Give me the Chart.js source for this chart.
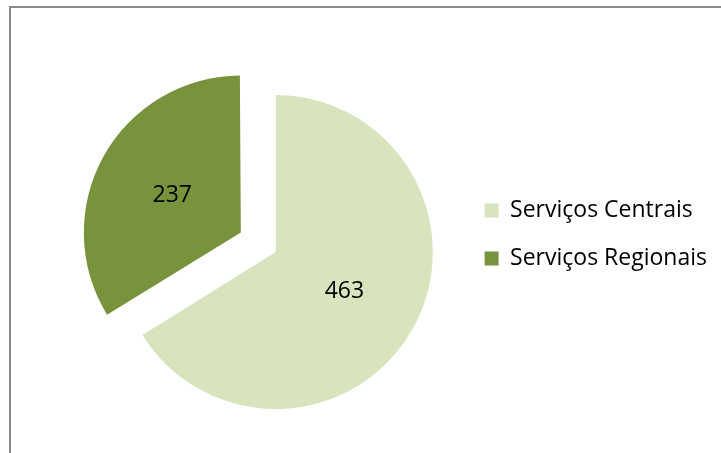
<!DOCTYPE html>
<html>
<head>
<meta charset="utf-8">
<script src="https://cdn.jsdelivr.net/npm/chart.js@4/dist/chart.umd.min.js"></script>
<style>
  body { margin: 0; background: #fff; }
  #wrap { position: relative; width: 721px; height: 453px; overflow: hidden; }
  #frame { position: absolute; left: 9px; top: 6px; width: 800px; height: 500px;
           border-left: 2px solid #8a8a8a; border-top: 2px solid #8a8a8a; }
  #chart { position: absolute; left: 0; top: 0; }
</style>
</head>
<body>
<div id="wrap">
  <div id="frame"></div>
  <canvas id="chart" width="721" height="453"></canvas>
</div>
<script>
// Data
const labels = ['Serviços Centrais', 'Serviços Regionais'];
const values = [463, 237];
const colors = ['#D7E4BD', '#77933C'];
const explode = [0, 160]; // Chart.js moves the slice by offset/4

// Chart.js also grows an offset slice a little; undo that so both slices keep one radius
function growth(arc) {
  const off = (arc.options.offset || 0) / 4;
  const circ = arc.endAngle - arc.startAngle;
  return off * (1 - Math.sin(Math.min(Math.PI, circ)));
}

const sliceFix = {
  id: 'sliceFix',
  afterDatasetsUpdate(chart) {
    chart.getDatasetMeta(0).data.forEach(arc => {
      arc.outerRadius -= growth(arc);
    });
  }
};

// draws the value in each slice, following the slice's own offset
const sliceLabels = {
  id: 'sliceLabels',
  afterDatasetsDraw(chart) {
    const ctx = chart.ctx;
    const meta = chart.getDatasetMeta(0);
    ctx.save();
    ctx.font = '23px "Open Sans"';
    ctx.fillStyle = '#000';
    ctx.textAlign = 'center';
    ctx.textBaseline = 'middle';
    meta.data.forEach((arc, i) => {
      const mid = (arc.startAngle + arc.endAngle) / 2;
      const r = (arc.outerRadius + growth(arc)) / 2 + (arc.options.offset || 0) / 4;
      ctx.fillText(String(values[i]), arc.x + Math.cos(mid) * r, arc.y + Math.sin(mid) * r + 1);
    });
    ctx.restore();
  }
};

new Chart(document.getElementById('chart'), {
  type: 'pie',
  data: {
    labels: labels,
    datasets: [{
      data: values,
      backgroundColor: colors,
      borderWidth: 0,
      offset: explode,
      hoverOffset: 0,
      radius: 157,
      clip: false
    }]
  },
  options: {
    responsive: false,
    animation: false,
    events: [],
    layout: {
      padding: { left: 92, right: 4, top: 51, bottom: 0 }
    },
    plugins: {
      tooltip: { enabled: false },
      legend: {
        position: 'right',
        align: 'start',
        // empty title only used to push the items down
        title: { display: true, text: '', font: { size: 10 }, padding: { top: 111, bottom: 0 } },
        labels: {
          boxWidth: 14,
          boxHeight: 14,
          padding: 25,
          color: '#000',
          font: { size: 23, family: 'Open Sans' }
        }
      }
    }
  },
  plugins: [sliceFix, sliceLabels]
});
</script>
</body>
</html>
